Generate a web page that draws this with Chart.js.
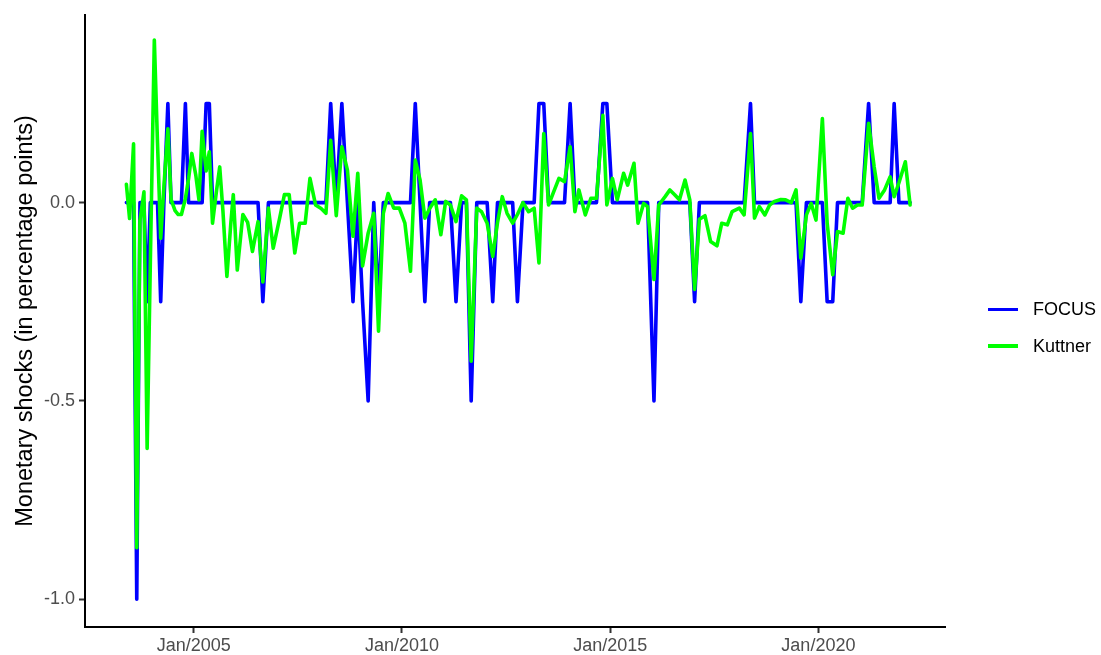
<!DOCTYPE html>
<html>
<head>
<meta charset="utf-8">
<title>Monetary shocks</title>
<script src="https://cdn.jsdelivr.net/npm/chart.js@4.4.1/dist/chart.umd.min.js"></script>
<style>
  html, body { margin: 0; padding: 0; background: #fff; }
  #wrap { position: relative; width: 1101px; height: 655px; }
  #legend { position: absolute; left: 988px; top: 0; font-family: "Liberation Sans", Arial, sans-serif; font-size: 18px; color: #000; }
  .item { position: absolute; left: 0; width: 113px; height: 22px; display: flex; align-items: center; white-space: nowrap; }
  .swatch { width: 30px; height: 3.5px; margin-right: 15px; }
</style>
</head>
<body>
<div id="wrap">
  <canvas id="chart" width="1101" height="655"></canvas>
  <div id="legend"></div>
</div>
<script>
// COPOM meeting dates and the two shock series (percentage points)
const meetingDates = [
  "2003-05-21", "2003-06-18", "2003-07-23", "2003-08-20", "2003-09-17", "2003-10-22", "2003-11-19", "2003-12-17",
  "2004-01-21", "2004-02-18", "2004-03-17", "2004-04-14", "2004-05-19", "2004-06-16", "2004-07-21", "2004-08-18",
  "2004-09-15", "2004-10-20", "2004-11-17", "2004-12-15",
  "2005-01-19", "2005-02-16", "2005-03-16", "2005-04-20", "2005-05-18", "2005-06-15", "2005-07-20", "2005-08-17",
  "2005-09-14", "2005-10-19", "2005-11-23", "2005-12-14",
  "2006-01-18", "2006-03-08", "2006-04-19", "2006-05-31", "2006-07-19", "2006-08-30", "2006-10-18", "2006-11-29",
  "2007-01-24", "2007-03-07", "2007-04-18", "2007-06-06", "2007-07-18", "2007-09-05", "2007-10-17", "2007-12-05",
  "2008-01-23", "2008-03-05", "2008-04-16", "2008-06-04", "2008-07-23", "2008-09-10", "2008-10-29", "2008-12-10",
  "2009-01-21", "2009-03-11", "2009-04-29", "2009-06-10", "2009-07-22", "2009-09-02", "2009-10-21", "2009-12-09",
  "2010-01-27", "2010-03-17", "2010-04-28", "2010-06-09", "2010-07-21", "2010-09-01", "2010-10-20", "2010-12-08",
  "2011-01-19", "2011-03-02", "2011-04-20", "2011-06-08", "2011-07-20", "2011-08-31", "2011-10-19", "2011-11-30",
  "2012-01-18", "2012-03-07", "2012-04-18", "2012-05-30", "2012-07-11", "2012-08-29", "2012-10-10", "2012-11-28",
  "2013-01-16", "2013-03-06", "2013-04-17", "2013-05-29", "2013-07-10", "2013-08-28", "2013-10-09", "2013-11-27",
  "2014-01-15", "2014-02-26", "2014-04-02", "2014-05-28", "2014-07-16", "2014-09-03", "2014-10-29", "2014-12-03",
  "2015-01-21", "2015-03-04", "2015-04-29", "2015-06-03", "2015-07-29", "2015-09-02", "2015-10-21", "2015-11-25",
  "2016-01-20", "2016-03-02", "2016-04-27", "2016-06-08", "2016-07-20", "2016-08-31", "2016-10-19", "2016-11-30",
  "2017-01-11", "2017-02-22", "2017-04-12", "2017-05-31", "2017-07-26", "2017-09-06", "2017-10-25", "2017-12-06",
  "2018-02-07", "2018-03-21", "2018-05-16", "2018-06-20", "2018-08-01", "2018-09-19", "2018-10-31", "2018-12-12",
  "2019-02-06", "2019-03-20", "2019-05-08", "2019-06-19", "2019-07-31", "2019-09-18", "2019-10-30", "2019-12-11",
  "2020-02-05", "2020-03-18", "2020-05-06", "2020-06-17", "2020-08-05", "2020-09-16", "2020-10-28", "2020-12-09",
  "2021-01-20", "2021-03-17", "2021-05-05", "2021-06-16", "2021-08-04", "2021-09-22", "2021-10-27", "2021-12-08",
  "2022-02-02", "2022-03-16"
];

const focusShock = [
  0, 0, 0, -1.0, 0, 0, -0.25, 0,
  0, 0, -0.25, 0, 0.25, 0, 0, 0,
  0, 0.25, 0, 0,
  0, 0, 0, 0.25, 0.25, 0, 0, 0,
  0, 0, 0, 0,
  0, 0, 0, 0, 0, -0.25, 0, 0,
  0, 0, 0, 0, 0, 0, 0, 0,
  0, 0, 0.25, 0, 0.25, 0, -0.25, 0,
  -0.25, -0.5, 0, -0.25, 0, 0, 0, 0,
  0, 0, 0.25, 0, -0.25, 0, 0, 0,
  0, 0, -0.25, 0, 0, -0.5, 0, 0,
  0, -0.25, 0, 0, 0, 0, -0.25, 0,
  0, 0, 0.25, 0.25, 0, 0, 0, 0,
  0.25, 0, 0, 0, 0, 0, 0.25, 0.25,
  0, 0, 0, 0, 0, 0, 0, 0,
  -0.5, 0, 0, 0, 0, 0, 0, 0,
  -0.25, 0, 0, 0, 0, 0, 0, 0,
  0, 0, 0.25, 0, 0, 0, 0, 0,
  0, 0, 0, 0, -0.25, 0, 0, 0,
  0, -0.25, -0.25, 0, 0, 0, 0, 0,
  0, 0.25, 0, 0, 0, 0, 0.25, 0,
  0, 0
];

const kuttnerShock = [
  0.046, -0.04, 0.148, -0.87, -0.045, 0.027, -0.62, -0.15,
  0.41, 0.15, -0.09, 0.04, 0.186, 0.008, -0.02, -0.03,
  -0.03, 0.01, 0.06, 0.124,
  0.07, 0.007, 0.18, 0.08, 0.128, -0.052, 0.03, 0.09,
  -0.02, -0.186, -0.05, 0.02,
  -0.17, -0.03, -0.05, -0.123, -0.048, -0.2, -0.014, -0.115,
  -0.04, 0.02, 0.02, -0.127, -0.052, -0.052, 0.061, -0.006,
  -0.015, -0.027, 0.157, -0.033, 0.141, 0.082, -0.085, 0.074,
  -0.16, -0.077, -0.027, -0.324, -0.027, 0.023, -0.014, -0.014,
  -0.052, -0.173, 0.107, 0.057, -0.039, -0.015, 0.007, -0.081,
  0.003, -0.006, -0.048, 0.017, 0.007, -0.4, -0.014, -0.023,
  -0.052, -0.136, -0.05, 0.015, -0.027, -0.052, -0.03, 0.0,
  -0.023, -0.014, -0.152, 0.174, -0.006, 0.03, 0.061, 0.053,
  0.141, -0.023, 0.032, -0.031, 0.011, 0.011, 0.22, -0.006,
  0.061, 0.007, 0.074, 0.044, 0.099, -0.052, -0.002, -0.01,
  -0.194, -0.006, 0.015, 0.032, 0.02, 0.007, 0.057, 0.007,
  -0.219, -0.042, -0.033, -0.098, -0.109, -0.052, -0.056, -0.023,
  -0.014, -0.031, 0.174, -0.039, -0.01, -0.031, -0.006, 0.003,
  0.008, 0.007, 0.0, 0.032, -0.14, -0.031, -0.002, -0.044,
  0.212, -0.052, -0.182, -0.073, -0.077, 0.011, -0.014, -0.006,
  -0.006, 0.2, 0.09, 0.011, 0.032, 0.065, 0.015, 0.05,
  0.103, -0.006
];

const xTickYears = [2005, 2010, 2015, 2020];
const yTickValues = [-1.0, -0.5, 0.0];

const seriesNames = ["FOCUS", "Kuttner"];
const seriesColors = ["#0000FF", "#00FF00"];

const FONT = "'Liberation Sans', Arial, sans-serif";

function toYear(s) {
  const [y, m, d] = s.split("-").map(Number);
  const start = Date.UTC(y, 0, 1);
  const end = Date.UTC(y + 1, 0, 1);
  return y + (Date.UTC(y, m - 1, d) - start) / (end - start);
}

function toPoints(values) {
  return meetingDates.map((d, i) => ({ x: toYear(d), y: values[i] }));
}

const axisGrid = { drawOnChartArea: false, drawTicks: true, tickLength: 6, tickWidth: 2, tickColor: "#333333" };
const axisBorder = { display: true, color: "#000000", width: 2 };

new Chart(document.getElementById("chart"), {
  type: "line",
  data: {
    datasets: [
      { label: seriesNames[0], data: toPoints(focusShock), borderColor: seriesColors[0], order: 1 },
      { label: seriesNames[1], data: toPoints(kuttnerShock), borderColor: seriesColors[1], order: 0 },
    ],
  },
  options: {
    responsive: false,
    animation: false,
    layout: { padding: { top: 15, right: 156, bottom: 0, left: 0 } },
    elements: {
      line: { borderWidth: 3.6, tension: 0, borderJoinStyle: "round", borderCapStyle: "round", fill: false },
      point: { radius: 0, hoverRadius: 0 },
    },
    plugins: { legend: { display: false }, tooltip: { enabled: false } },
    scales: {
      x: {
        type: "linear",
        min: 2002.39,
        max: 2023.04,
        afterBuildTicks: (s) => { s.ticks = xTickYears.map((v) => ({ value: v })); },
        afterFit: (s) => { s.height = 28; },
        ticks: {
          callback: (v) => "Jan/" + v,
          color: "#4D4D4D",
          font: { family: FONT, size: 18 },
          padding: 2,
          maxRotation: 0,
          autoSkip: false,
        },
        grid: axisGrid,
        border: axisBorder,
      },
      y: {
        min: -1.07,
        max: 0.473,
        afterBuildTicks: (s) => { s.ticks = yTickValues.map((v) => ({ value: v })); },
        afterFit: (s) => { s.width = 85; },
        title: {
          display: true,
          text: "Monetary shocks (in percentage points)",
          color: "#000000",
          font: { family: FONT, size: 23.5 },
          padding: { top: 11, bottom: 0 },
        },
        ticks: {
          callback: (v) => Number(v).toFixed(1),
          color: "#4D4D4D",
          font: { family: FONT, size: 18 },
          padding: 4,
        },
        grid: axisGrid,
        border: axisBorder,
      },
    },
  },
});

// legend at the right, like ggplot's
const legendCenters = [309.5, 346];
document.getElementById("legend").innerHTML = seriesNames
  .map((name, i) =>
    `<div class="item" style="top:${legendCenters[i] - 11}px"><span class="swatch" style="background:${seriesColors[i]}"></span><span>${name}</span></div>`
  )
  .join("");
</script>
</body>
</html>
